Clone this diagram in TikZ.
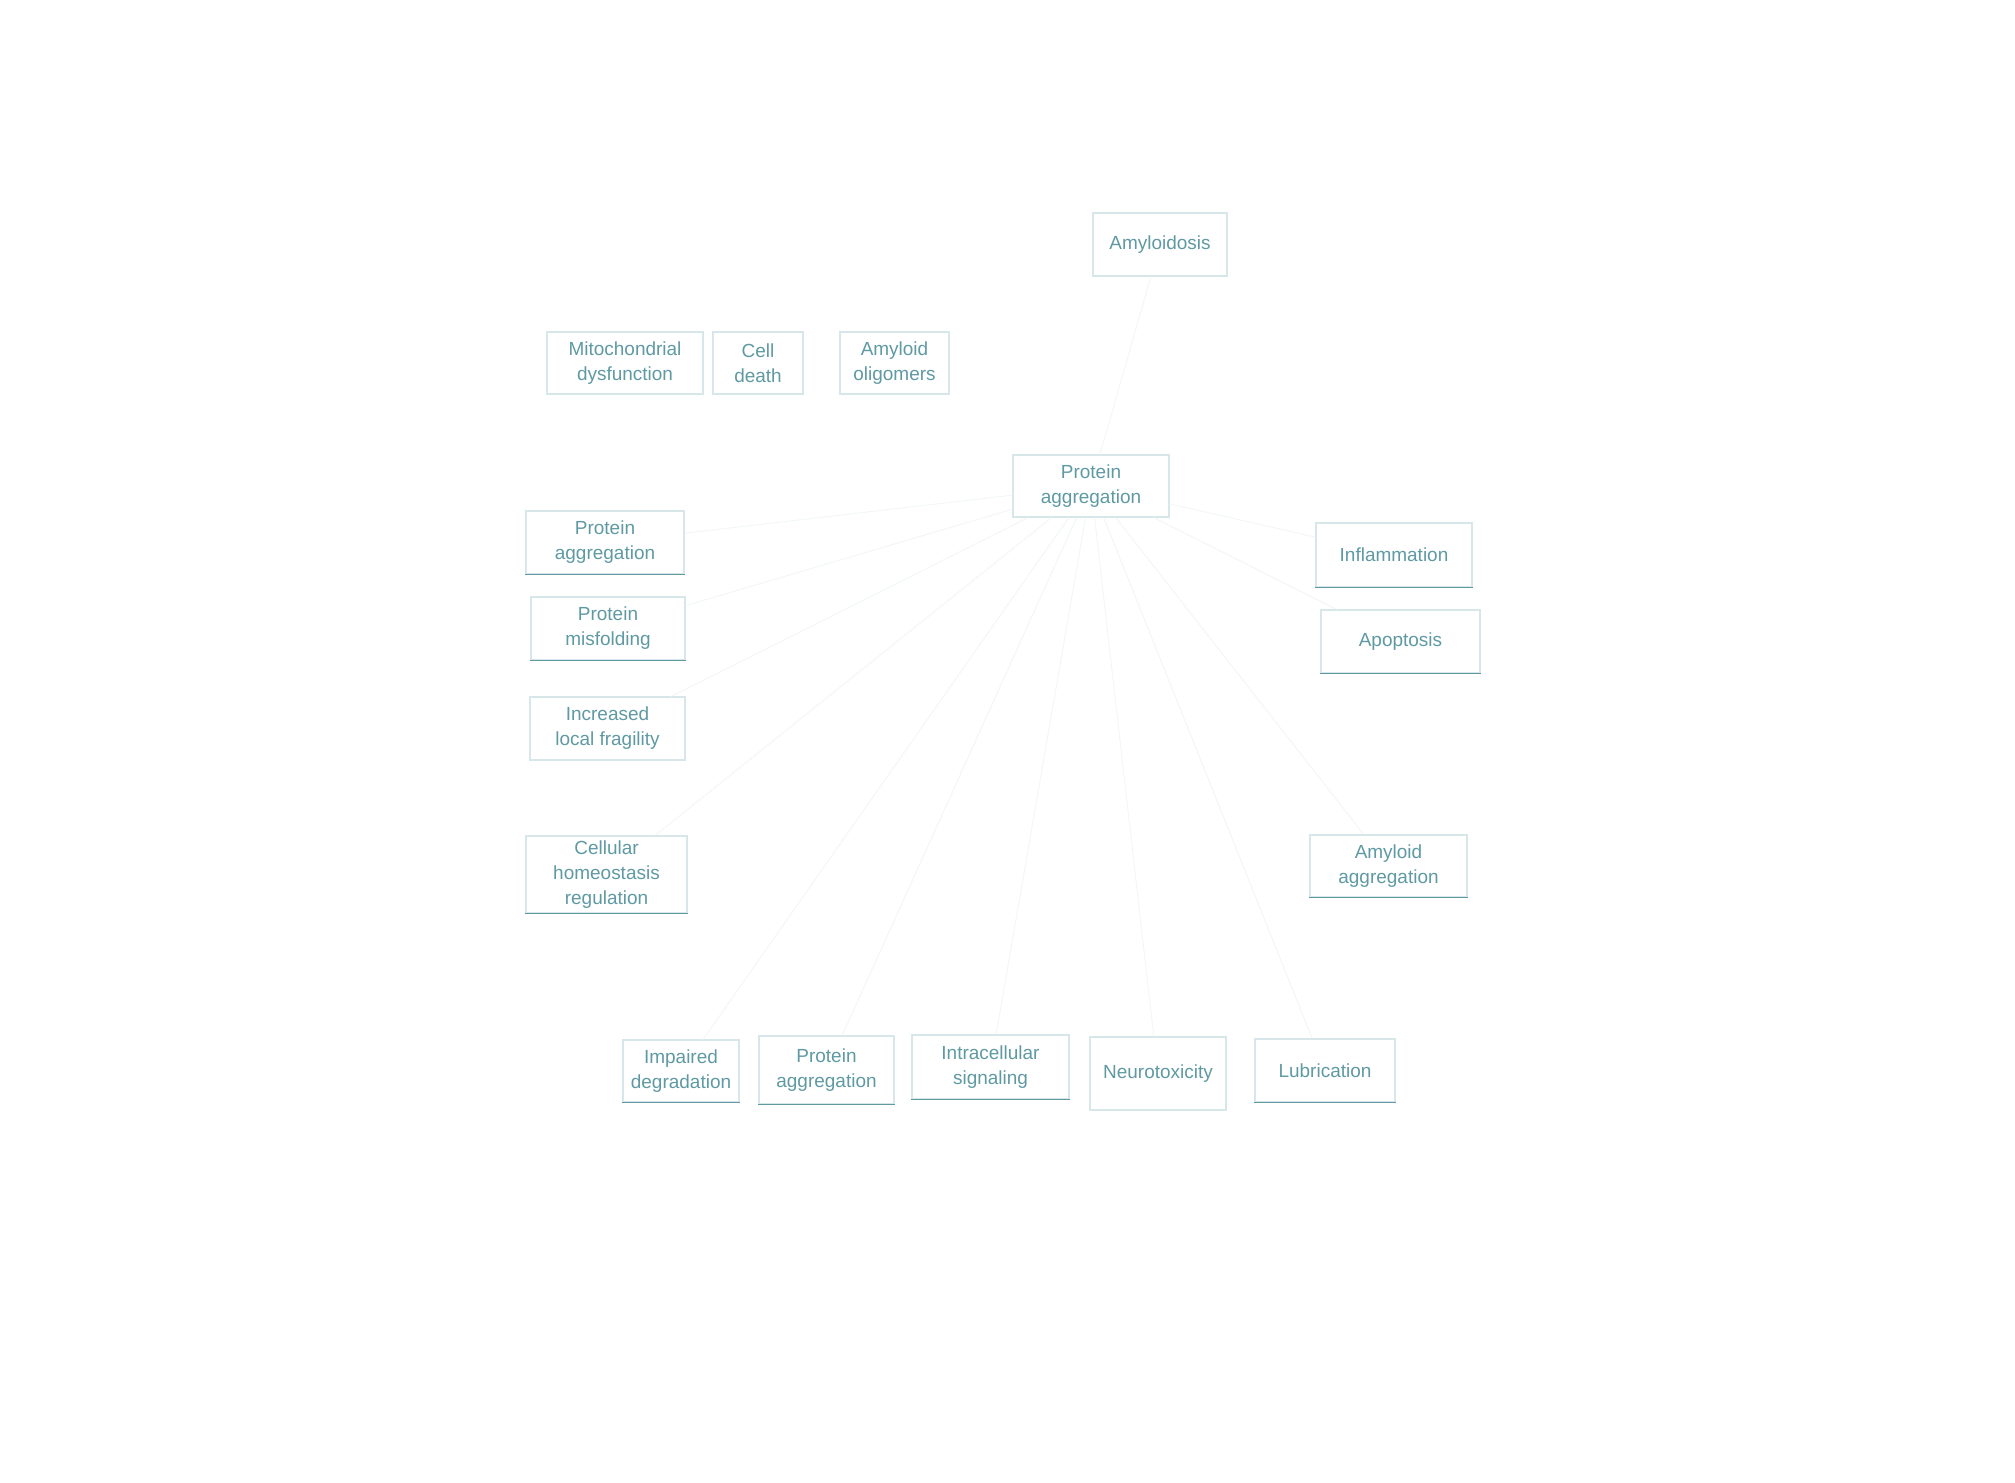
\documentclass[tikz,border=0pt]{standalone}
\usepackage{fontspec}
\setmainfont{Liberation Sans}
\definecolor{boxc}{RGB}{95,154,163}
\begin{document}
\begin{tikzpicture}[x=0.1mm,y=-0.1mm,
  ebox/.style={draw=boxc!25, line width=0.3pt, align=center, inner sep=0pt,
    text=boxc, font=\fontsize{5.4}{7.1}\selectfont},
  bottomline/.style={draw=boxc, line width=0.4pt},
  link/.style={draw=boxc!9, line width=0.25pt}]
\useasboundingbox[fill=white] (0,0) rectangle (2015,1483);
% top
\node[ebox, minimum width=13.4mm, minimum height=6.3mm] (top) at (1160,244.5) {Amyloidosis};
% second row
\node[ebox, minimum width=15.6mm, minimum height=6.2mm] (m1) at (625,363) {Mitochondrial\\dysfunction};
\node[ebox, minimum width=9.0mm, minimum height=6.2mm] (m2) at (758,363) {Cell\\death};
\node[ebox, minimum width=10.9mm, minimum height=6.2mm] (m3) at (894.5,363) {Amyloid\\oligomers};
% centre
\node[ebox, minimum width=15.6mm, minimum height=6.2mm] (ctr) at (1091,486) {Protein\\aggregation};
% left column
\node[ebox, minimum width=15.8mm, minimum height=6.3mm] (l1) at (605,542.5) {Protein\\aggregation};
\node[ebox, minimum width=15.4mm, minimum height=6.3mm] (l2) at (608,628.5) {Protein\\misfolding};
\node[ebox, minimum width=15.5mm, minimum height=6.3mm] (l3) at (607.5,728.5) {Increased\\local fragility};
\node[ebox, minimum width=16.1mm, minimum height=7.7mm] (l4) at (606.5,874.5) {Cellular\\homeostasis\\regulation};
% right column
\node[ebox, minimum width=15.6mm, minimum height=6.4mm] (r1) at (1394,555) {Inflammation};
\node[ebox, minimum width=15.9mm, minimum height=6.3mm] (r2) at (1400.5,641.5) {Apoptosis};
\node[ebox, minimum width=15.7mm, minimum height=6.2mm] (r3) at (1388.5,866) {Amyloid\\aggregation};
% bottom row
\node[ebox, minimum width=11.6mm, minimum height=6.2mm] (b1) at (681,1071) {Impaired\\degradation};
\node[ebox, minimum width=13.5mm, minimum height=6.8mm] (b2) at (826.5,1070) {Protein\\aggregation};
\node[ebox, minimum width=15.7mm, minimum height=6.4mm] (b3) at (990.5,1067) {Intracellular\\signaling};
\node[ebox, minimum width=13.6mm, minimum height=7.3mm] (b4) at (1158,1073.5) {Neurotoxicity};
\node[ebox, minimum width=14.0mm, minimum height=6.3mm] (b5) at (1325,1070.5) {Lubrication};
% faint connectors
\foreach \n in {l1,l2,l3,l4,r1,r2,r3,b1,b2,b3,b4,b5}
  \draw[link] (ctr) -- (\n);
\draw[link] (top) -- (ctr);
% bottom edges of boxes
\foreach \n in {l1,l2,l4,r1,r2,r3,b1,b2,b3,b5}
  \draw[bottomline] (\n.south west) -- (\n.south east);
\end{tikzpicture}
\end{document}
